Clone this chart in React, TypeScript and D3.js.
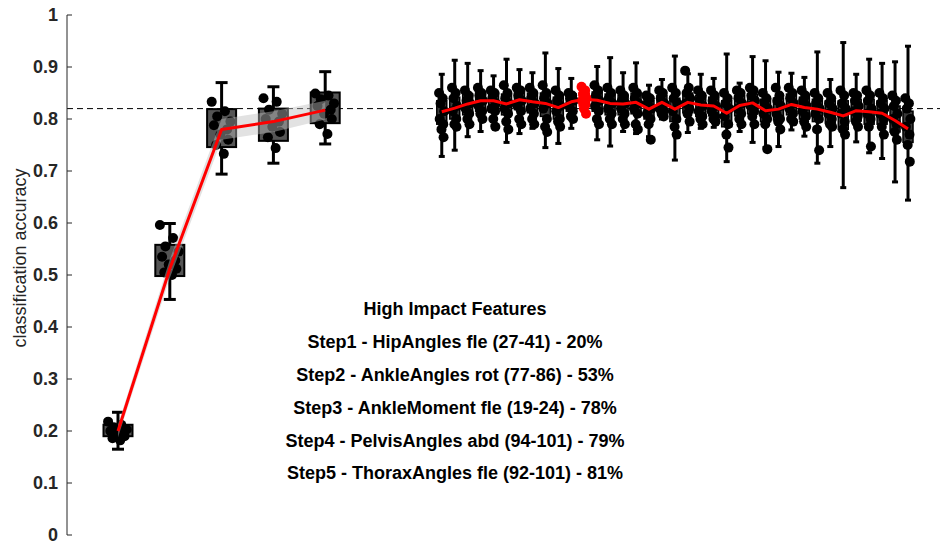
import React from 'react';
import * as d3 from 'd3';

// ---------- data ----------
const leftPos = [1, 5, 9, 13, 17];
const leftMean = [0.2, 0.512, 0.78, 0.795, 0.817];
const leftBand = [0.012, 0.018, 0.02, 0.02, 0.018];
const leftQ1 = [0.19, 0.498, 0.746, 0.758, 0.792];
const leftQ3 = [0.212, 0.558, 0.819, 0.82, 0.851];
const leftLo = [0.165, 0.453, 0.694, 0.715, 0.752];
const leftHi = [0.236, 0.599, 0.87, 0.862, 0.891];
const leftDots = [
  [0.218, 0.212, 0.207, 0.203, 0.2, 0.197, 0.193, 0.19, 0.186, 0.182],
  [0.596, 0.571, 0.555, 0.545, 0.535, 0.528, 0.52, 0.512, 0.505, 0.5],
  [0.833, 0.815, 0.805, 0.795, 0.788, 0.78, 0.77, 0.76, 0.75, 0.733],
  [0.84, 0.833, 0.818, 0.81, 0.8, 0.795, 0.785, 0.775, 0.765, 0.744],
  [0.849, 0.845, 0.838, 0.83, 0.825, 0.818, 0.81, 0.8, 0.79, 0.771],
];

const rightPos = d3.range(26, 63);
const rightMean = [0.814, 0.821, 0.829, 0.835, 0.835, 0.829, 0.837, 0.833, 0.83, 0.822, 0.833, 0.838, 0.836, 0.83, 0.829, 0.832, 0.819, 0.832, 0.819, 0.832, 0.827, 0.825, 0.811, 0.826, 0.831, 0.816, 0.819, 0.828, 0.822, 0.819, 0.813, 0.806, 0.816, 0.814, 0.811, 0.797, 0.781];
const rightQ1 = [0.79, 0.8, 0.808, 0.815, 0.815, 0.808, 0.818, 0.812, 0.805, 0.8, 0.815, 0.825, 0.815, 0.808, 0.808, 0.81, 0.8, 0.815, 0.795, 0.812, 0.805, 0.806, 0.785, 0.806, 0.81, 0.795, 0.798, 0.808, 0.8, 0.795, 0.792, 0.78, 0.796, 0.79, 0.79, 0.775, 0.755];
const rightQ3 = [0.835, 0.842, 0.848, 0.852, 0.85, 0.848, 0.853, 0.85, 0.85, 0.842, 0.848, 0.85, 0.852, 0.848, 0.846, 0.85, 0.835, 0.845, 0.84, 0.85, 0.845, 0.842, 0.835, 0.845, 0.848, 0.838, 0.84, 0.848, 0.842, 0.838, 0.835, 0.835, 0.838, 0.838, 0.835, 0.825, 0.815];
const rightHi = [0.886, 0.913, 0.907, 0.893, 0.883, 0.915, 0.895, 0.889, 0.927, 0.897, 0.878, null, 0.901, 0.918, 0.889, 0.908, 0.865, 0.876, 0.921, 0.887, 0.886, 0.878, 0.925, 0.869, 0.92, 0.912, 0.89, 0.888, 0.88, 0.929, 0.876, 0.947, 0.886, 0.915, 0.907, 0.91, 0.94];
const rightLo = [0.728, 0.74, 0.766, 0.776, 0.788, 0.755, 0.772, 0.782, 0.745, 0.753, 0.782, null, 0.76, 0.748, 0.776, 0.772, 0.766, 0.8, 0.721, 0.774, 0.782, 0.784, 0.718, 0.776, 0.755, 0.745, 0.747, 0.779, 0.767, 0.715, 0.747, 0.668, 0.756, 0.735, 0.724, 0.679, 0.644];
const rightDots = [
  [0.85, 0.84, 0.83, 0.815, 0.8, 0.79, 0.78, 0.765],
  [0.86, 0.85, 0.84, 0.825, 0.815, 0.8, 0.79, 0.785],
  [0.855, 0.845, 0.835, 0.83, 0.82, 0.81, 0.8, 0.79],
  [0.86, 0.85, 0.845, 0.835, 0.825, 0.815, 0.81, 0.8],
  [0.855, 0.85, 0.84, 0.83, 0.82, 0.815, 0.8, 0.785],
  [0.865, 0.85, 0.84, 0.83, 0.82, 0.81, 0.795, 0.78],
  [0.86, 0.855, 0.845, 0.835, 0.825, 0.815, 0.8, 0.79],
  [0.86, 0.85, 0.84, 0.83, 0.82, 0.81, 0.8, 0.79],
  [0.865, 0.85, 0.84, 0.83, 0.82, 0.8, 0.785, 0.775],
  [0.855, 0.845, 0.835, 0.825, 0.815, 0.8, 0.795, 0.785],
  [0.85, 0.845, 0.84, 0.835, 0.825, 0.815, 0.805, 0.8],
  [0.862, 0.855, 0.848, 0.84, 0.835, 0.828, 0.82, 0.81],
  [0.865, 0.855, 0.845, 0.835, 0.825, 0.815, 0.8, 0.79],
  [0.86, 0.85, 0.84, 0.83, 0.82, 0.81, 0.8, 0.79],
  [0.855, 0.845, 0.835, 0.83, 0.82, 0.81, 0.8, 0.79],
  [0.86, 0.85, 0.84, 0.83, 0.82, 0.81, 0.79, 0.78],
  [0.845, 0.84, 0.83, 0.82, 0.81, 0.8, 0.79, 0.76],
  [0.855, 0.85, 0.84, 0.83, 0.82, 0.815, 0.81, 0.805],
  [0.86, 0.85, 0.84, 0.83, 0.815, 0.8, 0.785, 0.77],
  [0.893, 0.86, 0.85, 0.84, 0.83, 0.82, 0.81, 0.795],
  [0.855, 0.845, 0.835, 0.825, 0.815, 0.805, 0.8, 0.79],
  [0.855, 0.845, 0.835, 0.825, 0.815, 0.805, 0.8, 0.795],
  [0.85, 0.84, 0.83, 0.82, 0.805, 0.79, 0.77, 0.745],
  [0.855, 0.85, 0.84, 0.83, 0.82, 0.81, 0.8, 0.79],
  [0.86, 0.855, 0.845, 0.835, 0.825, 0.815, 0.805, 0.79],
  [0.85, 0.84, 0.83, 0.82, 0.81, 0.8, 0.79, 0.742],
  [0.86, 0.845, 0.835, 0.825, 0.81, 0.8, 0.795, 0.78],
  [0.86, 0.85, 0.84, 0.83, 0.82, 0.81, 0.8, 0.795],
  [0.855, 0.845, 0.835, 0.825, 0.815, 0.805, 0.795, 0.785],
  [0.85, 0.84, 0.83, 0.82, 0.81, 0.8, 0.78, 0.74],
  [0.85, 0.84, 0.83, 0.82, 0.81, 0.8, 0.79, 0.785],
  [0.855, 0.845, 0.83, 0.82, 0.81, 0.795, 0.78, 0.77],
  [0.85, 0.845, 0.835, 0.825, 0.815, 0.805, 0.795, 0.785],
  [0.855, 0.845, 0.835, 0.82, 0.81, 0.8, 0.785, 0.747],
  [0.85, 0.84, 0.83, 0.82, 0.81, 0.8, 0.785, 0.77],
  [0.845, 0.835, 0.825, 0.81, 0.8, 0.79, 0.775, 0.76],
  [0.84, 0.83, 0.82, 0.8, 0.785, 0.77, 0.75, 0.718],
];
const highlightIndex = 11;

const yTicks = [0, 0.1, 0.2, 0.3, 0.4, 0.5, 0.6, 0.7, 0.8, 0.9, 1];
const yTickLabels = ['0', '0.1', '0.2', '0.3', '0.4', '0.5', '0.6', '0.7', '0.8', '0.9', '1'];
const yLabel = 'classification accuracy';
const refLine = 0.82;
const annotationTitle = 'High Impact Features';
const annotationLines = [
  'Step1 - HipAngles fle (27-41) - 20%',
  'Step2 - AnkleAngles rot (77-86) - 53%',
  'Step3 - AnkleMoment fle (19-24) - 78%',
  'Step4 - PelvisAngles abd (94-101) - 79%',
  'Step5 - ThoraxAngles fle (92-101) - 81%',
];

// jitter pattern (fraction of half-spread), styling only
const JITTER = [-0.9, 0.3, -0.4, 0.8, -0.7, 0.5, -0.1, 0.6, -0.5, 0.2];

const FONT = "'Liberation Sans', Arial, sans-serif";

export default function App() {
  const W = 940;
  const H = 545;
  const x = d3.scaleLinear().domain([1, 62]).range([118, 908]);
  const y = d3.scaleLinear().domain([0, 1]).range([535, 15]);
  const axisX = 67;

  const mkLine = (pos: number[], vals: number[]) =>
    d3
      .line<number>()
      .x((_, i) => x(pos[i]))
      .y((d) => y(d))(vals) || '';

  const band =
    d3
      .area<number>()
      .x((_, i) => x(leftPos[i]))
      .y0((d, i) => y(d - leftBand[i]))
      .y1((d, i) => y(d + leftBand[i]))(leftMean) || '';

  const leftBoxW = 29;
  const leftCapW = 12;
  const rightBoxW = 10;
  const rightCapW = 6;

  return (
    <svg
      width={W}
      height={H}
      style={{ position: 'absolute', left: 0, top: 0, background: '#fff' }}
      fontFamily={FONT}
    >
      <rect x={0} y={0} width={W} height={H} fill="#fff" />
      <line
        x1={axisX}
        x2={W}
        y1={y(refLine)}
        y2={y(refLine)}
        stroke="#000"
        strokeWidth={1}
        strokeDasharray="6,4"
      />

      {leftPos.map((p, i) => {
        const cx = x(p);
        return (
          <g key={'lb' + i}>
            <line x1={cx} x2={cx} y1={y(leftHi[i])} y2={y(leftLo[i])} stroke="#000" strokeWidth={3} />
            <line x1={cx - leftCapW / 2} x2={cx + leftCapW / 2} y1={y(leftHi[i])} y2={y(leftHi[i])} stroke="#000" strokeWidth={3} />
            <line x1={cx - leftCapW / 2} x2={cx + leftCapW / 2} y1={y(leftLo[i])} y2={y(leftLo[i])} stroke="#000" strokeWidth={3} />
            <rect
              x={cx - leftBoxW / 2}
              y={y(leftQ3[i])}
              width={leftBoxW}
              height={y(leftQ1[i]) - y(leftQ3[i])}
              fill="#555"
              stroke="#000"
              strokeWidth={2}
            />
            {leftDots[i].map((d, j) => (
              <circle key={j} cx={cx + JITTER[j % JITTER.length] * 11} cy={y(d)} r={5} fill="#000" />
            ))}
          </g>
        );
      })}

      {rightPos.map((p, i) => {
        const cx = x(p);
        const hl = i === highlightIndex;
        const col = hl ? '#ff0000' : '#000';
        const hi = rightHi[i];
        const lo = rightLo[i];
        return (
          <g key={'rb' + i}>
            {hi != null && lo != null && (
              <>
                <line x1={cx} x2={cx} y1={y(hi)} y2={y(lo)} stroke={col} strokeWidth={3} />
                <line x1={cx - rightCapW / 2} x2={cx + rightCapW / 2} y1={y(hi)} y2={y(hi)} stroke={col} strokeWidth={3} />
                <line x1={cx - rightCapW / 2} x2={cx + rightCapW / 2} y1={y(lo)} y2={y(lo)} stroke={col} strokeWidth={3} />
              </>
            )}
            <rect
              x={cx - rightBoxW / 2}
              y={y(rightQ3[i])}
              width={rightBoxW}
              height={y(rightQ1[i]) - y(rightQ3[i])}
              fill={hl ? '#ff0000' : '#3a3a3a'}
              stroke={col}
              strokeWidth={1.5}
            />
            {rightDots[i].map((d, j) => (
              <circle key={j} cx={cx + JITTER[j % JITTER.length] * 3} cy={y(d)} r={5} fill={col} />
            ))}
          </g>
        );
      })}

      <path d={band} fill="#bfbfbf" opacity={0.45} />

      <path d={mkLine(leftPos, leftMean)} fill="none" stroke="#ff0000" strokeWidth={3} strokeLinejoin="round" />
      <path d={mkLine(rightPos, rightMean)} fill="none" stroke="#ff0000" strokeWidth={3} strokeLinejoin="round" />

      <line x1={axisX} x2={axisX} y1={y(1)} y2={y(0)} stroke="#262626" strokeWidth={1} />
      {yTicks.map((t, i) => (
        <g key={'t' + i}>
          <line x1={axisX} x2={axisX + 5} y1={y(t)} y2={y(t)} stroke="#262626" strokeWidth={1} />
          <text
            x={axisX - 9}
            y={y(t)}
            dy="0.36em"
            textAnchor="end"
            fontSize={18}
            fontWeight="bold"
            fill="#262626"
          >
            {yTickLabels[i]}
          </text>
        </g>
      ))}
      <text
        transform={`translate(26,258) rotate(-90)`}
        textAnchor="middle"
        fontSize={18}
        fill="#262626"
      >
        {yLabel}
      </text>

      <g fontWeight="bold" fontSize={18} fill="#000" textAnchor="middle">
        <text x={455} y={309} dy="0.36em">
          {annotationTitle}
        </text>
        {annotationLines.map((s, i) => (
          <text key={i} x={455} y={309 + (i + 1) * 32.8} dy="0.36em">
            {s}
          </text>
        ))}
      </g>
    </svg>
  );
}
